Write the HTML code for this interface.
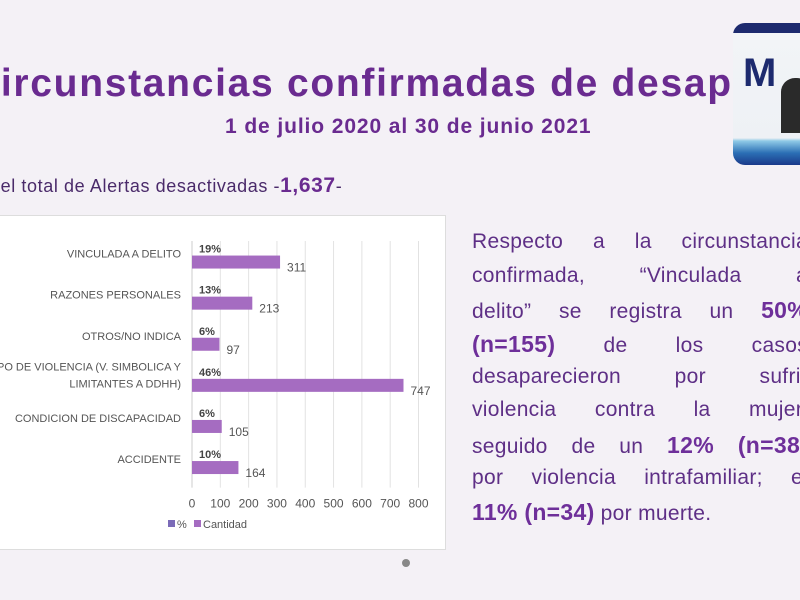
<!DOCTYPE html>
<html><head><meta charset="utf-8"><style>
html,body{margin:0;padding:0}
body{width:800px;height:600px;overflow:hidden;position:relative;background:#f4f1f6;font-family:"Liberation Sans",sans-serif}
.abs{position:absolute}
#title{left:-29px;top:62px;font-size:39px;font-weight:bold;color:#6a2b90;white-space:nowrap;letter-spacing:1.7px}
#sub{left:225px;top:115px;font-size:21px;font-weight:bold;color:#6a2b90;white-space:nowrap;letter-spacing:0.9px}
#total{left:-13px;top:174px;font-size:18px;color:#4a2a6a;white-space:nowrap;letter-spacing:0.6px}
#total b{font-size:21px;color:#6a2b90}
#chartbox{left:-2px;top:215px;width:446px;height:333px;background:#fff;border:1px solid #ddd}
.ln{position:absolute;left:472px;width:336px;font-size:21px;color:#5e2f86;text-align:justify;text-align-last:justify;white-space:nowrap;height:26px;letter-spacing:0.3px}
.ln b{color:#6e2f9a;font-size:23px}
#video{left:733px;top:23px;width:67px;height:142px;border-radius:12px 0 0 12px;background:linear-gradient(#1d2a6e 0,#1d2a6e 10px,#f2f4f7 10px,#eef1f5 115px,#8ec9e6 118px,#2b6fb5 130px,#1a3a8a 142px);overflow:hidden}
</style></head><body>
<div class="abs" id="title">Circunstancias confirmadas de desaparición</div>
<div class="abs" id="sub">1 de julio 2020 al 30 de junio 2021</div>
<div class="abs" id="total">Del total de Alertas desactivadas -<b>1,637</b>-</div>
<div class="abs" id="chartbox">
<svg id="chart" width="446" height="333"></svg>
</div>
<div class="abs" id="video">
<div class="abs" style="left:10px;top:28px;font-size:40px;font-weight:bold;color:#1d2a6e">M</div>
<div class="abs" style="left:48px;top:55px;width:30px;height:55px;border-radius:14px 14px 0 0;background:#2a2a2a"></div>
</div>
<div class="ln" style="top:230px">Respecto a la circunstancia</div>
<div class="ln" style="top:264px">confirmada, “Vinculada a</div>
<div class="ln" style="top:297px">delito” se registra un <b>50%</b></div>
<div class="ln" style="top:331px"><b>(n=155)</b> de los casos</div>
<div class="ln" style="top:365px">desaparecieron por sufrir</div>
<div class="ln" style="top:398px">violencia contra la mujer,</div>
<div class="ln" style="top:432px">seguido de un <b>12%</b> <b>(n=38)</b></div>
<div class="ln" style="top:466px">por violencia intrafamiliar; el</div>
<div class="ln" style="top:499px;text-align-last:left;text-align:left"><b>11% (n=34)</b> por muerte.</div>
<div class="abs" style="left:402px;top:559px;width:8px;height:8px;border-radius:50%;background:#888"></div>
<script>
const categories=[["VINCULADA A DELITO"],["RAZONES PERSONALES"],["OTROS/NO INDICA"],["OTRO TIPO DE VIOLENCIA (V. SIMBOLICA Y","LIMITANTES A DDHH)"],["CONDICION DE DISCAPACIDAD"],["ACCIDENTE"]];
const cantidad=[311,213,97,747,105,164];
const pct=["19%","13%","6%","46%","6%","10%"];
const ticks=[0,100,200,300,400,500,600,700,800];
const svg=document.getElementById('chart');
const NS='http://www.w3.org/2000/svg';
const ox=2,oy=215;
const x0=195-ox,x1=421.5-ox,xmax=800;
const X=v=>x0+(x1-x0)*v/xmax;
const yTop=240-oy,bandH=41.1;
const Y=i=>yTop+bandH*i+bandH/2;
function mk(t,a,txt){const e=document.createElementNS(NS,t);for(const k in a)e.setAttribute(k,a[k]);if(txt!==undefined)e.textContent=txt;svg.appendChild(e);return e;}
ticks.forEach(t=>{
const g=mk('line',{x1:X(t),x2:X(t),y1:yTop,y2:yTop+bandH*6,stroke:t===0?'#ccc':'#e2e2e2','stroke-width':1});


const l=mk('text',{x:X(t),y:yTop+bandH*6+20,'font-size':12,'text-anchor':'middle',fill:'#555','font-family':'Liberation Sans'},t);


});
categories.forEach((c,i)=>{
const cy=Y(i);
const r=mk('rect',{x:X(0),y:cy-6,width:X(cantidad[i])-X(0),height:13,fill:'#a56cc1'});


const p=mk('text',{x:X(0)+7,y:cy-9,'font-size':11,'font-weight':'bold',fill:'#444','font-family':'Liberation Sans'},pct[i]);


const v=mk('text',{x:X(cantidad[i])+7,y:cy+10,'font-size':12,fill:'#555','font-family':'Liberation Sans'},cantidad[i]);


c.forEach((line,j)=>{
const t=mk('text',{x:x0-11,y:cy-4+(j-(c.length-1)/2)*17+(c.length>1?-2:0),'font-size':11,'text-anchor':'end',fill:'#555','font-family':'Liberation Sans'},line);


});
});
const ly=527-oy;
const a=mk('rect',{x:171-ox,y:ly-8,width:7,height:7,fill:'#7b6bb8'});

const at=mk('text',{x:180-ox,y:ly,'font-size':11,fill:'#555','font-family':'Liberation Sans'},'%');

const b=mk('rect',{x:197-ox,y:ly-8,width:7,height:7,fill:'#a56cc1'});

const bt=mk('text',{x:206-ox,y:ly,'font-size':11,fill:'#555','font-family':'Liberation Sans'},'Cantidad');

</script>
</body></html>
